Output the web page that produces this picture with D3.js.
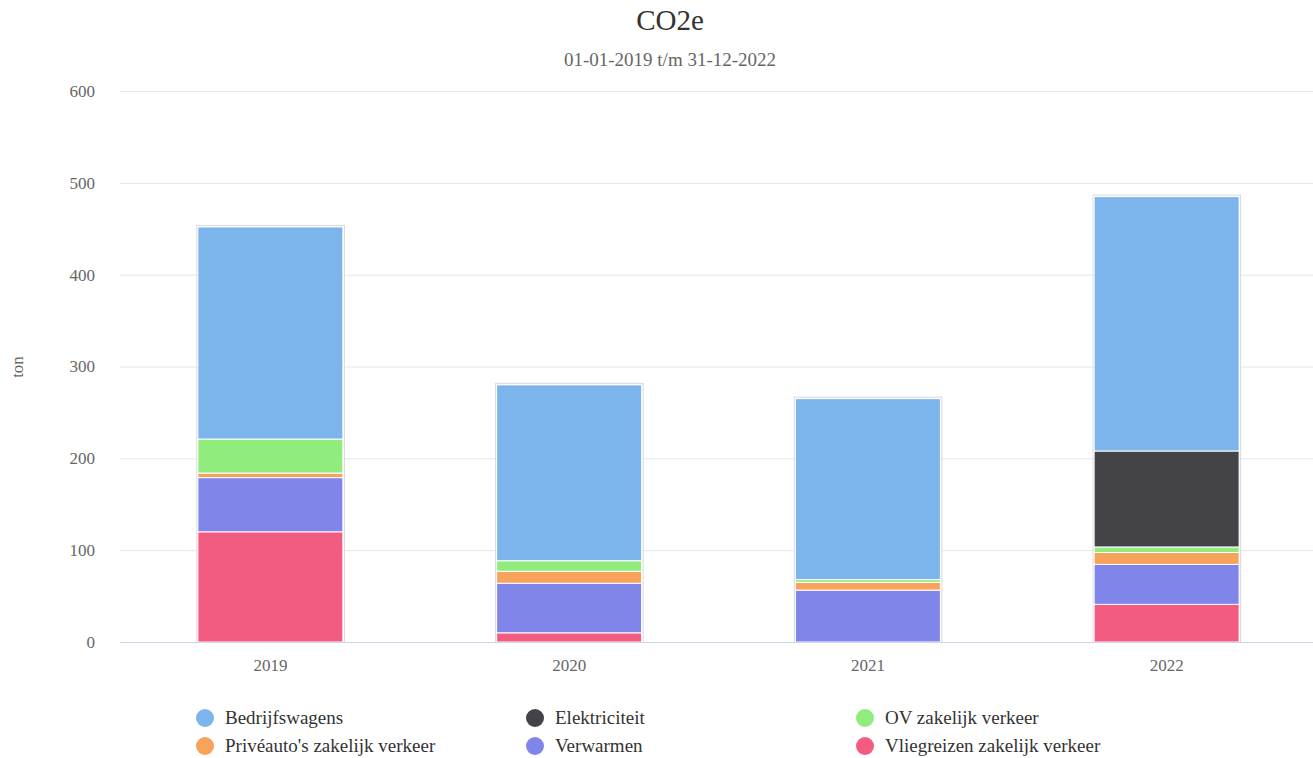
<!DOCTYPE html>
<html><head><meta charset="utf-8">
<script src="https://cdn.jsdelivr.net/npm/d3@7"></script>
<style>body{margin:0;background:#fff}svg{display:block}svg text{font-family:"Liberation Serif","Times New Roman",serif !important}</style>
</head><body><svg id="c" width="1313" height="758"></svg>
<script>
const years = ["2019","2020","2021","2022"];
const seriesNames = ["Bedrijfswagens","Elektriciteit","OV zakelijk verkeer","Privéauto's zakelijk verkeer","Verwarmen","Vliegreizen zakelijk verkeer"];
const seriesColors = ["#7cb5ec","#434348","#90ed7d","#f7a35c","#8085e9","#f15c80"];
const bedrijfswagens = [231, 191.5, 197, 277];
const elektriciteit = [0, 0, 0, 104.5];
const ovZakelijk = [37, 11.5, 3, 6];
const priveauto = [5, 13, 8.5, 13];
const verwarmen = [59, 54, 56.5, 43.5];
const vliegreizen = [120, 10, 0, 41];
const yTicks = [0,100,200,300,400,500,600];

const seriesValues = [bedrijfswagens, elektriciteit, ovZakelijk, priveauto, verwarmen, vliegreizen];
const svg = d3.select("#c");
const pLeft = 120, pRight = 1313, pTop = 91, pBottom = 642;
const x = d3.scaleBand().domain(years).range([121, 1316]).paddingInner(0).paddingOuter(0);
const y = d3.scaleLinear().domain([0, 600]).range([pBottom, pTop]);

// title
svg.append("text").attr("x", 670).attr("y", 30).attr("text-anchor","middle").attr("font-size",29).attr("fill","#333").text("CO2e");
svg.append("text").attr("x", 670).attr("y", 66).attr("text-anchor","middle").attr("font-size",19).attr("fill","#666").text("01-01-2019 t/m 31-12-2022");

// grid
const gy = svg.append("g").attr("transform",`translate(${pLeft},0)`)
  .call(d3.axisLeft(y).tickValues(yTicks).tickSize(-(pRight-pLeft)).tickFormat(d=>d).tickPadding(25));
gy.select(".domain").remove();
gy.selectAll(".tick line").attr("stroke","#e6e6e6");
gy.selectAll(".tick text").attr("fill","#666").attr("font-size",17);

svg.append("text").attr("transform","translate(23,367) rotate(-90)").attr("text-anchor","middle").attr("font-size",17).attr("fill","#666").text("ton");

// stacks: first series on top
const rows = years.map((yr,i)=>{const o={year:yr}; seriesNames.forEach((s,j)=>o[s]=seriesValues[j][i]); return o;});
const stack = d3.stack().keys(seriesNames.slice().reverse())(rows);
const bw = 145;
const g = svg.append("g");
// soft shadow outline for each full bar
g.selectAll(null).data(years).enter().append("rect")
  .attr("x", d=>x(d)+x.bandwidth()/2-bw/2-1)
  .attr("y", (d,i)=>y(d3.sum(seriesValues, s=>s[i]))-1.5)
  .attr("width", bw+2.5)
  .attr("height", (d,i)=>pBottom-y(d3.sum(seriesValues, s=>s[i]))+1.5)
  .attr("fill","none").attr("stroke","#d8d8d8").attr("stroke-width",1);
stack.forEach(layer=>{
  const idx = seriesNames.indexOf(layer.key);
  g.selectAll(null).data(layer.filter(d=>d[1]-d[0]>0)).enter().append("rect")
    .attr("x", d=>x(d.data.year)+x.bandwidth()/2-bw/2)
    .attr("y", d=>y(d[1]))
    .attr("width", bw)
    .attr("height", d=>y(d[0])-y(d[1]))
    .attr("fill", seriesColors[idx])
    .attr("stroke","#fff").attr("stroke-width",1);
});

// x axis
const gx = svg.append("g").attr("transform",`translate(0,${pBottom})`).call(d3.axisBottom(x).tickSize(0).tickPadding(17));
gx.select(".domain").attr("stroke","#ccd6eb").attr("d", `M${pLeft},0.5H${pRight}`);
gx.selectAll(".tick text").attr("fill","#666").attr("font-size",17);

// legend
const legX = [205, 535, 865];
const legY = [718, 746];
seriesNames.forEach((s,i)=>{
  const cx = legX[i%3], cy = legY[Math.floor(i/3)];
  svg.append("circle").attr("cx",cx).attr("cy",cy).attr("r",9).attr("fill",seriesColors[i]);
  svg.append("text").attr("x",cx+20).attr("y",cy+6).attr("font-size",19).attr("fill","#333").text(s);
});
</script></body></html>
